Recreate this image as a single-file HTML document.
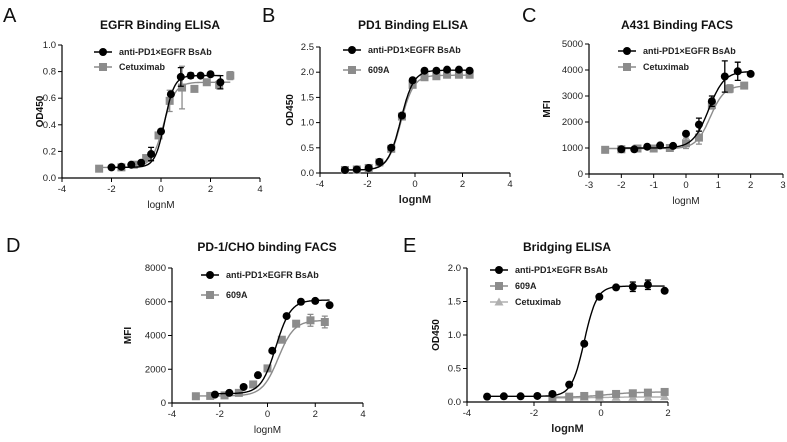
<!DOCTYPE html>
<html><head><meta charset="utf-8">
<style>
body{margin:0;background:#fff;width:787px;height:437px;overflow:hidden;font-family:"Liberation Sans",Arial,sans-serif}
svg text{font-family:"Liberation Sans",Arial,sans-serif}
</style></head>
<body>
<svg id="fig" width="787" height="437" viewBox="0 0 787 437"></svg>
<script>
// ---- data ----
const aBlackX=[-2,-1.6,-1.2,-0.8,-0.4,0,0.4,0.8,1.2,1.6,2,2.4];
const aBlackY=[0.08,0.085,0.10,0.115,0.18,0.35,0.63,0.76,0.77,0.77,0.78,0.72];
const aBlackE=[0,0,0,0,0.05,0,0,0.07,0.02,0,0,0.05];
const aGrayX=[-2.5,-1.6,-1.1,-0.6,-0.1,0.35,0.85,1.35,1.85,2.35,2.8];
const aGrayY=[0.07,0.08,0.10,0.15,0.32,0.58,0.68,0.67,0.72,0.70,0.77];
const aGrayE=[0,0,0,0,0.02,0.08,0.16,0.02,0,0.03,0.03];
const bBlackX=[-2.95,-2.45,-1.95,-1.5,-1.0,-0.55,-0.1,0.4,0.9,1.35,1.85,2.3];
const bBlackY=[0.06,0.07,0.10,0.22,0.50,1.14,1.84,2.03,2.03,2.05,2.05,2.03];
const bGrayX=[-2.95,-2.45,-1.95,-1.5,-1.0,-0.55,-0.1,0.4,0.9,1.35,1.85,2.3];
const bGrayY=[0.06,0.07,0.10,0.21,0.48,1.12,1.75,1.90,1.92,1.95,1.95,1.95];
const cBlackX=[-2,-1.6,-1.2,-0.8,-0.4,0,0.4,0.8,1.2,1.6,2];
const cBlackY=[950,950,1050,1100,1080,1550,1900,2800,3750,3950,3850];
const cBlackE=[0,0,0,0,0,0,250,200,600,350,0];
const cGrayX=[-2.5,-2,-1.5,-1,-0.5,0,0.4,0.8,1.35,1.8];
const cGrayY=[930,950,980,980,1000,1180,1400,2650,3280,3400];
const cGrayE=[0,0,0,0,0,200,250,150,150,0];
const dBlackX=[-2.2,-1.6,-1,-0.4,0.2,0.8,1.4,2,2.6];
const dBlackY=[500,600,950,1650,3100,5150,6000,6050,5800];
const dGrayX=[-3,-2.4,-1.8,-1.2,-0.6,0,0.6,1.2,1.8,2.4];
const dGrayY=[400,420,450,600,1100,2050,3750,4700,4900,4800];
const dGrayE=[0,0,0,0,0,0,0,0,350,350];
const eBlackX=[-3.4,-2.9,-2.4,-1.9,-1.45,-0.95,-0.5,-0.05,0.45,0.95,1.4,1.9];
const eBlackY=[0.08,0.085,0.085,0.09,0.12,0.26,0.87,1.57,1.71,1.72,1.75,1.66];
const eBlackE=[0,0,0,0,0,0,0,0,0,0.07,0.07,0];
const eGrayX=[-1.45,-0.95,-0.5,-0.05,0.45,0.95,1.4,1.9];
const eGrayY=[0.07,0.08,0.09,0.11,0.12,0.13,0.14,0.15];
const eTriX=[-1.45,-0.95,-0.5,-0.05,0.45,0.95,1.4,1.9];
const eTriY=[0.06,0.06,0.07,0.07,0.07,0.07,0.07,0.08];
// 4PL fit params: bottom, top, logEC50, hill
const aBlackFit=[0.08,0.77,0.15,2.2], aGrayFit=[0.08,0.72,0.1,1.8];
const bBlackFit=[0.06,2.04,-0.6,1.6], bGrayFit=[0.06,1.94,-0.6,1.6];
const cBlackFit=[1000,3950,0.7,1.8], cGrayFit=[980,3400,0.75,2.0];
const dBlackFit=[550,6100,0.35,1.4], dGrayFit=[420,4900,0.45,1.3];
const eBlackFit=[0.085,1.73,-0.5,2.3], eGrayFit=[0.07,0.15,0.2,1], eTriFit=[0.06,0.075,0,1];
// ---- drawing ----
const NS="http://www.w3.org/2000/svg", fig=document.getElementById('fig');
function mk(tag,attrs,parent,text){const e=document.createElementNS(NS,tag);for(const k in attrs)e.setAttribute(k,attrs[k]);if(text!==undefined)e.textContent=text;(parent||fig).appendChild(e);return e;}
function panel(p){
  const g=mk('g',{});
  
  
  const sx=v=>p.x0+(v-p.xmin)/(p.xmax-p.xmin)*(p.x1-p.x0);
  const sy=v=>p.y0-(v-p.ymin)/(p.ymax-p.ymin)*(p.y0-p.y1);
  const L=mk('text',{x:p.lx,y:p.ly,'font-size':20,fill:'#111'},g,p.letter);
  
  
  const T=mk('text',{x:p.tx,y:p.ty,'font-size':12,'font-weight':'bold','text-anchor':'middle',fill:'#111'},g,p.title);
  
  
  mk('line',{x1:p.x0,y1:p.y0,x2:p.x0,y2:p.y1,stroke:'#000','stroke-width':1.2},g);
  mk('line',{x1:p.x0,y1:p.y0,x2:p.x1,y2:p.y0,stroke:'#000','stroke-width':1.2},g);
  p.xt.forEach(v=>{const X=sx(v);mk('line',{x1:X,y1:p.y0,x2:X,y2:p.y0+4,stroke:'#000'},g);
    const t=mk('text',{x:X,y:p.y0+14,'font-size':9.5,'text-anchor':'middle',fill:'#222'},g,v);
    
    });
  p.yt.forEach((v,i)=>{const Y=sy(v);mk('line',{x1:p.x0-4,y1:Y,x2:p.x0,y2:Y,stroke:'#000'},g);
    const t=mk('text',{x:p.x0-6,y:Y+3,'font-size':9.5,'text-anchor':'end',fill:'#222'},g,p.ytl[i]);
    
    });
  const xl=mk('text',{x:(p.x0+p.x1)/2,y:p.y0+30,'font-size':p.xbold?11:10,'font-weight':p.xbold?'bold':'normal','text-anchor':'middle',fill:'#222'},g,'lognM');
  
  
  const yc=(p.y0+p.y1)/2;
  const yl=mk('text',{x:p.ylx,y:yc,'font-size':10,'font-weight':'bold','text-anchor':'middle',fill:'#111',transform:`rotate(-90 ${p.ylx} ${yc})`},g,p.ylabel);
  
  
  const order=p.series.map((s,i)=>i).reverse();
  order.forEach(si=>{
    const s=p.series[si];
    const sg=mk('g',{},g);
    
    
    const [b,t,ec,h]=s.fit;let d='';
    for(let i=0;i<=120;i++){const xv=s.x[0]+(s.x[s.x.length-1]-s.x[0])*i/120;
      const yv=b+(t-b)/(1+Math.pow(10,(ec-xv)*h));d+=(i?'L':'M')+sx(xv).toFixed(1)+','+sy(yv).toFixed(1);}
    mk('path',{d:d,fill:'none',stroke:s.color,'stroke-width':1.4},sg);
    s.x.forEach((xv,i)=>{const X=sx(xv),Y=sy(s.y[i]);
      const e=s.e?s.e[i]:0;
      if(e){mk('path',{d:`M${X},${sy(s.y[i]-e)}V${sy(s.y[i]+e)}M${X-3},${sy(s.y[i]-e)}h6M${X-3},${sy(s.y[i]+e)}h6`,stroke:s.color,'stroke-width':1.3,fill:'none'},sg);}
      let m;
      if(s.shape==='c')m=mk('circle',{cx:X,cy:Y,r:4,fill:s.color},sg);
      else if(s.shape==='s')m=mk('rect',{x:X-4,y:Y-4,width:8,height:8,fill:s.color},sg);
      else m=mk('polygon',{points:`${X},${Y-4.5} ${X+4.5},${Y+3.5} ${X-4.5},${Y+3.5}`,fill:s.color},sg);
      
      
    });
    const ly=p.legY+si*p.legDy, lx=p.legX;
    const lg=mk('g',{},g);
    
    
    mk('line',{x1:lx-9,y1:ly,x2:lx+9,y2:ly,stroke:s.color,'stroke-width':1.5},lg);
    if(s.shape==='c')mk('circle',{cx:lx,cy:ly,r:4,fill:s.color},lg);
    else if(s.shape==='s')mk('rect',{x:lx-4,y:ly-4,width:8,height:8,fill:s.color},lg);
    else mk('polygon',{points:`${lx},${ly-4.5} ${lx+4.5},${ly+3.5} ${lx-4.5},${ly+3.5}`,fill:s.color},lg);
    mk('text',{x:lx+16,y:ly+3,'font-size':9,'font-weight':'bold',fill:'#222'},lg,s.label);
  });
}
const BS='anti-PD1×EGFR BsAb', BK='#000', GR='#8c8c8c', LG='#b0b0b0';
panel({name:'panel-a-egfr-elisa',letter:'A',lx:3,ly:22,title:'EGFR Binding ELISA',tx:160,ty:29,x0:62,x1:260,y0:178,y1:45,xmin:-4,xmax:4,ymin:0,ymax:1,
  xt:[-4,-2,0,2,4],yt:[0,0.2,0.4,0.6,0.8,1],ytl:['0.0','0.2','0.4','0.6','0.8','1.0'],ylabel:'OD450',ylx:43,legX:103,legY:52,legDy:15,
  series:[{label:BS,x:aBlackX,y:aBlackY,e:aBlackE,fit:aBlackFit,color:BK,shape:'c'},{label:'Cetuximab',x:aGrayX,y:aGrayY,e:aGrayE,fit:aGrayFit,color:GR,shape:'s'}]});
panel({name:'panel-b-pd1-elisa',letter:'B',lx:262,ly:22,title:'PD1 Binding ELISA',tx:413,ty:29,x0:320,x1:510,y0:173,y1:47,xmin:-4,xmax:4,ymin:0,ymax:2.5,xbold:true,
  xt:[-4,-2,0,2,4],yt:[0,0.5,1,1.5,2,2.5],ytl:['0.0','0.5','1.0','1.5','2.0','2.5'],ylabel:'OD450',ylx:293,legX:352,legY:50,legDy:20,
  series:[{label:BS,x:bBlackX,y:bBlackY,fit:bBlackFit,color:BK,shape:'c'},{label:'609A',x:bGrayX,y:bGrayY,fit:bGrayFit,color:GR,shape:'s'}]});
panel({name:'panel-c-a431-facs',letter:'C',lx:522,ly:22,title:'A431 Binding FACS',tx:677,ty:29,x0:589,x1:783,y0:174,y1:44,xmin:-3,xmax:3,ymin:0,ymax:5000,
  xt:[-3,-2,-1,0,1,2,3],yt:[0,1000,2000,3000,4000,5000],ytl:['0','1000','2000','3000','4000','5000'],ylabel:'MFI',ylx:550,legX:627,legY:51,legDy:16,
  series:[{label:BS,x:cBlackX,y:cBlackY,e:cBlackE,fit:cBlackFit,color:BK,shape:'c'},{label:'Cetuximab',x:cGrayX,y:cGrayY,e:cGrayE,fit:cGrayFit,color:GR,shape:'s'}]});
panel({name:'panel-d-pd1-cho-facs',letter:'D',lx:6,ly:252,title:'PD-1/CHO binding FACS',tx:267,ty:251,x0:172,x1:363,y0:403,y1:268,xmin:-4,xmax:4,ymin:0,ymax:8000,
  xt:[-4,-2,0,2,4],yt:[0,2000,4000,6000,8000],ytl:['0','2000','4000','6000','8000'],ylabel:'MFI',ylx:131,legX:210,legY:275,legDy:20,
  series:[{label:BS,x:dBlackX,y:dBlackY,fit:dBlackFit,color:BK,shape:'c'},{label:'609A',x:dGrayX,y:dGrayY,e:dGrayE,fit:dGrayFit,color:GR,shape:'s'}]});
panel({name:'panel-e-bridging-elisa',letter:'E',lx:403,ly:252,title:'Bridging ELISA',tx:567,ty:251,x0:467,x1:668,y0:402,y1:268,xmin:-4,xmax:2,ymin:0,ymax:2,xbold:true,
  xt:[-4,-2,0,2],yt:[0,0.5,1,1.5,2],ytl:['0.0','0.5','1.0','1.5','2.0'],ylabel:'OD450',ylx:439,legX:499,legY:270,legDy:16,
  series:[{label:BS,x:eBlackX,y:eBlackY,e:eBlackE,fit:eBlackFit,color:BK,shape:'c'},{label:'609A',x:eGrayX,y:eGrayY,fit:eGrayFit,color:GR,shape:'s'},{label:'Cetuximab',x:eTriX,y:eTriY,fit:eTriFit,color:LG,shape:'t'}]});
</script>
</body></html>
